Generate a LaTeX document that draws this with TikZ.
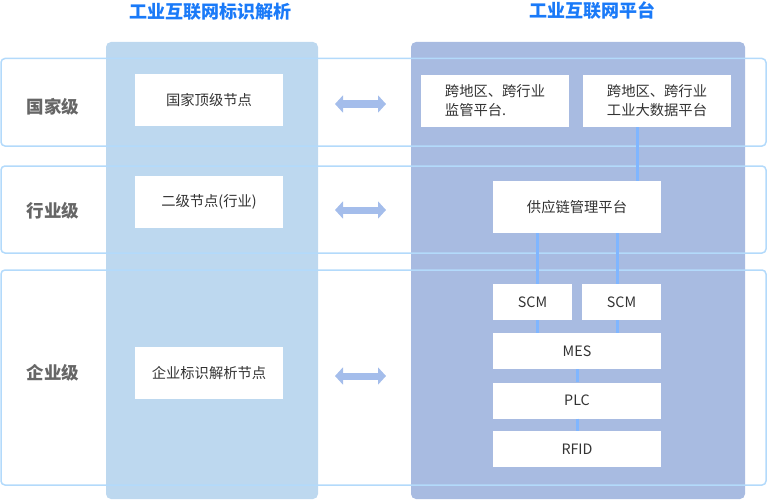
\documentclass[tikz,border=0pt]{standalone}
\usepackage{fontspec}
\setmainfont{Noto Sans CJK SC}
\usepackage{xcolor}
\usepackage{tikz}
\usetikzlibrary{arrows.meta,positioning,calc}
\definecolor{leftbg}{HTML}{BDD8EF}
\definecolor{rightbg}{HTML}{A8BBE1}
\definecolor{bandline}{HTML}{B3DAFB}
\definecolor{linkblue}{HTML}{80B6FF}
\definecolor{arrowblue}{HTML}{A4BDEB}
\definecolor{titleblue}{HTML}{1A7AF8}
\definecolor{lvlgray}{HTML}{666666}
\definecolor{txtgray}{HTML}{333333}

\begin{document}
\begin{tikzpicture}[x=1pt, y=-1pt,
    colbg/.style={fill=#1, draw=none, rounded corners=5pt},
    band/.style={draw=bandline, line width=1.5pt, rounded corners=4pt},
    box/.style={rectangle, fill=white, minimum width=148pt, minimum height=52pt, inner sep=0pt, align=left, font=\fontsize{14.3}{19}\selectfont, text=txtgray},
    smallbox/.style={box, minimum height=36pt},
    lvl/.style={font=\fontsize{17.5}{20}\selectfont\bfseries, text=lvlgray},
    title/.style={font=\fontsize{18}{20}\selectfont\bfseries, text=titleblue},
    link/.style={draw=linkblue, line width=3pt},
    dbl/.style={draw=arrowblue, line width=7pt, {Triangle[length=8pt,width=17pt]}-{Triangle[length=8pt,width=17pt]}},
]
    \useasboundingbox (0,0) rectangle (767,500);

    % two columns
    \fill[colbg=leftbg] (106,42) rectangle (318,499);
    \fill[colbg=rightbg] (411,42) rectangle (745,499);

    % level bands
    \draw[band] (1,58.5) rectangle (766,146);
    \draw[band] (1,166) rectangle (766,253);
    \draw[band] (1,270) rectangle (766,485);

    % titles
    \node[title] (t_left) at (210,12) {工业互联网标识解析};
    \node[title] (t_right) at (592,11) {工业互联网平台};

    % levels
    \node[lvl] (lv_nat) at (53,107) {国家级};
    \node[lvl] (lv_ind) at (53,211) {行业级};
    \node[lvl] (lv_ent) at (53,373) {企业级};

    % identifier resolution nodes
    \node[box] (top_node) at (209,100) {国家顶级节点};
    \node[box] (sec_node) at (209,202) {二级节点(行业)};
    \node[box] (ent_node) at (209,373) {企业标识解析节点};

    % double arrows
    \foreach \n/\y in {a/104, b/210, c/376} {
        \coordinate (\n_l) at (335,\y);
        \coordinate (\n_r) at (386,\y);
        \draw[dbl] (\n_l) -- (\n_r);
    }

    % platform nodes
    \node[box] (reg_plat) at (495,101) {跨地区、跨行业\\监管平台.};
    \node[box] (data_plat) at (657,101) {跨地区、跨行业\\工业大数据平台};
    \node[box, minimum width=168pt] (scm_plat) at (577,207) {供应链管理平台};
    \node[smallbox, minimum width=79pt] (scm_a) at (532.5,302) {SCM};
    \node[smallbox, minimum width=79pt] (scm_b) at (621.5,302) {SCM};
    \node[smallbox, minimum width=168pt] (mes) at (577,351) {MES};
    \node[smallbox, minimum width=168pt] (plc) at (577,400.5) {PLC};
    \node[smallbox, minimum width=168pt] (rfid) at (577,449) {RFID};

    % links
    \coordinate (x_data) at (637,0);
    \coordinate (x_a) at (537,0);
    \coordinate (x_b) at (617,0);
    \draw[link] (data_plat.south -| x_data) -- (scm_plat.north -| x_data);
    \draw[link] (scm_plat.south -| x_a) -- (scm_a.north -| x_a);
    \draw[link] (scm_plat.south -| x_b) -- (scm_b.north -| x_b);
    \draw[link] (scm_a.south -| x_a) -- (mes.north -| x_a);
    \draw[link] (scm_b.south -| x_b) -- (mes.north -| x_b);
    \draw[link] (mes) -- (plc);
    \draw[link] (plc) -- (rfid);
\end{tikzpicture}
\end{document}
